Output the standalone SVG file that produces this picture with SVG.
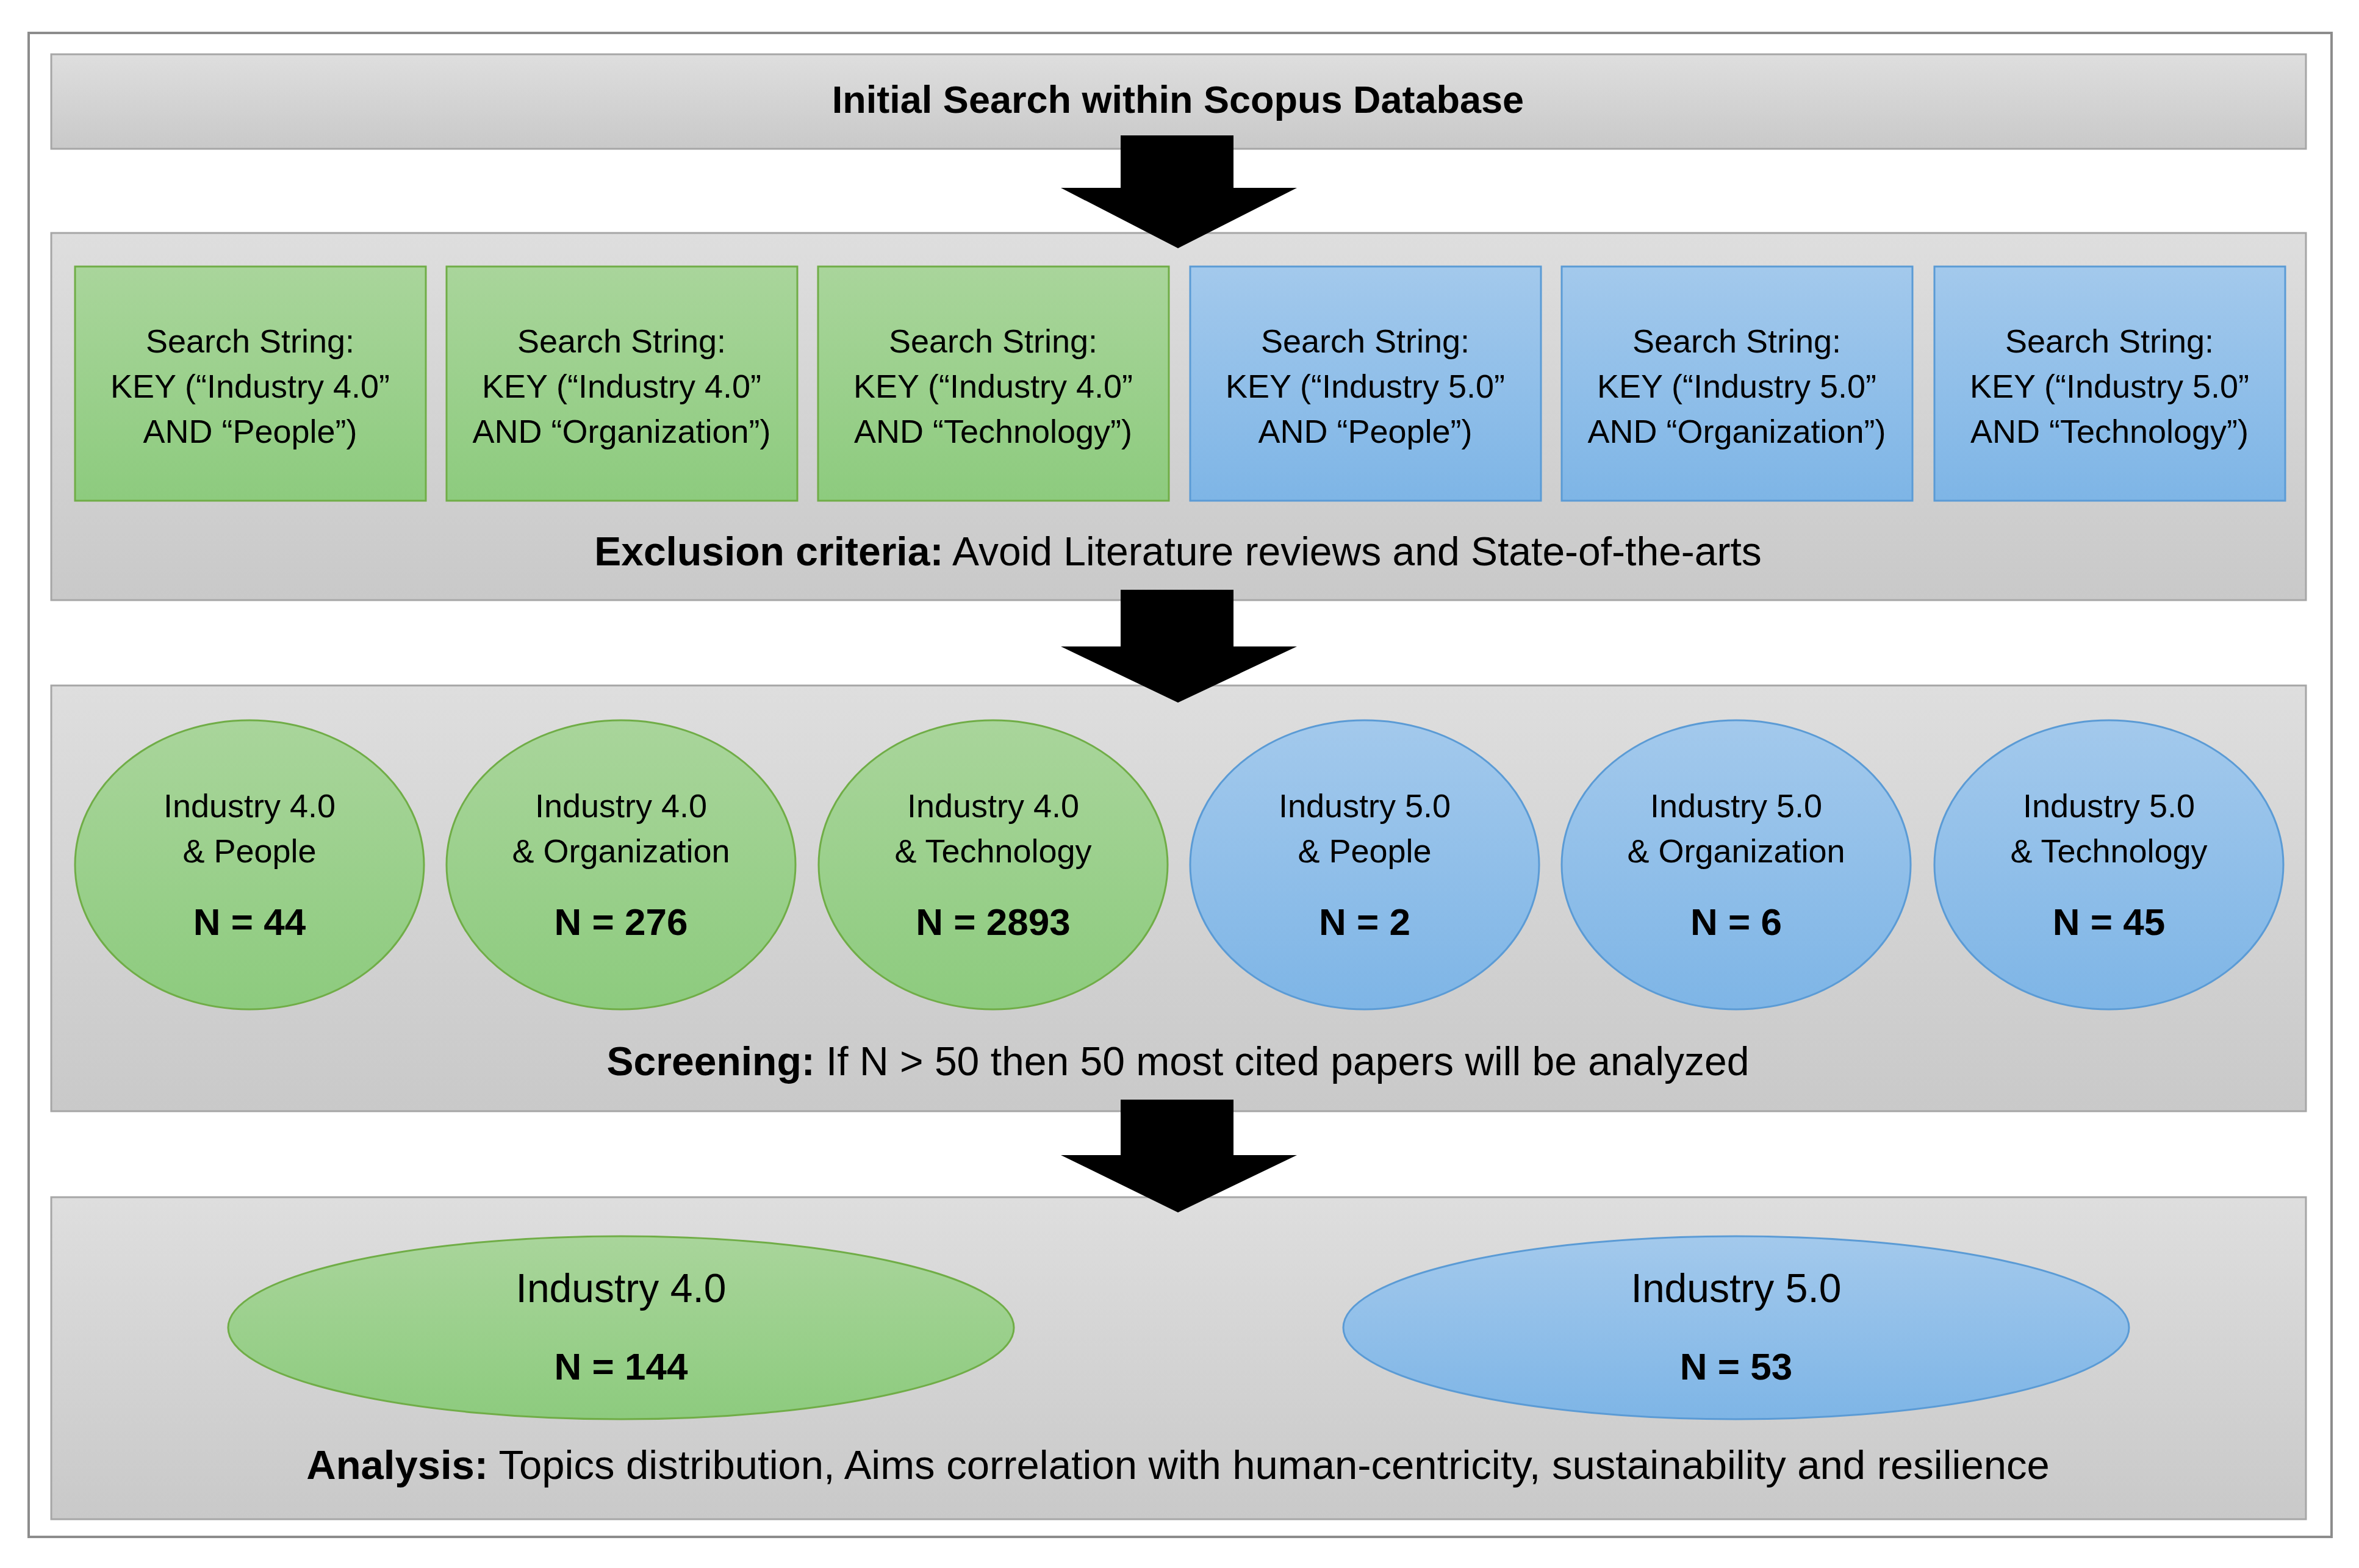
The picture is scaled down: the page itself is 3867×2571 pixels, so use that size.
<svg xmlns="http://www.w3.org/2000/svg" width="3867" height="2571" viewBox="0 0 3867 2571">
<defs>
<linearGradient id="gray" x1="0" y1="0" x2="0" y2="1"><stop offset="0" stop-color="#dedede"/><stop offset="1" stop-color="#c9c9c9"/></linearGradient>
<linearGradient id="green" x1="0" y1="0" x2="0" y2="1"><stop offset="0" stop-color="#a9d59b"/><stop offset="1" stop-color="#8dcb7e"/></linearGradient>
<linearGradient id="blue" x1="0" y1="0" x2="0" y2="1"><stop offset="0" stop-color="#a3c9ec"/><stop offset="1" stop-color="#7eb5e6"/></linearGradient>
</defs>
<style>
text{font-family:"Liberation Sans",Arial,sans-serif;fill:#000;text-anchor:middle}
.panel{fill:url(#gray);stroke:#a6a6a6;stroke-width:3}
.g{fill:url(#green);stroke:#70ad47;stroke-width:3}
.b{fill:url(#blue);stroke:#5b9bd5;stroke-width:3}
.t{font-size:54px}
.n{font-size:62px;font-weight:bold}
.l{font-size:60px}
.c{font-size:66px}
.bold{font-weight:bold}
.arr{fill:#000}
</style>
<rect width="3867" height="2571" fill="#fff"/>
<rect x="47" y="54" width="3775" height="2466" fill="#fff" stroke="#8c8c8c" stroke-width="4"/>
<g id="title"><rect class="panel" x="84" y="89" width="3696" height="155"/><text x="1931" y="185" font-size="63" font-weight="bold">Initial Search within Scopus Database</text></g>
<g id="panel2"><rect class="panel" x="84" y="382" width="3696" height="602"/><text class="c" x="1931" y="927"><tspan class="bold">Exclusion  criteria:</tspan> Avoid Literature reviews and State-of-the-arts</text></g>
<g id="panel3"><rect class="panel" x="84" y="1124" width="3696" height="698"/><text class="c" x="1931" y="1763"><tspan class="bold">Screening:</tspan> If N &gt; 50 then 50 most cited papers will be analyzed</text></g>
<g id="panel4"><rect class="panel" x="84" y="1963" width="3696" height="528"/><text x="1931" y="2425" font-size="67"><tspan class="bold">Analysis:</tspan> Topics distribution, Aims correlation with human-centricity, sustainability and resilience</text></g>
<g id="connectors">
<polygon class="arr" points="1837,222 2022,222 2022,308 2126,308 1931,407 1739,308 1837,308"/>
<polygon class="arr" points="1837,967 2022,967 2022,1060 2126,1060 1931,1152 1739,1060 1837,1060"/>
<polygon class="arr" points="1837,1803 2022,1803 2022,1894 2126,1894 1931,1988 1739,1894 1837,1894"/>
</g>
<g id="s1"><rect class="g" x="123" y="437" width="575" height="384"/><text class="t" x="410" y="578">Search String:</text><text class="t" x="410" y="652">KEY (“Industry 4.0”</text><text class="t" x="410" y="726">AND “People”)</text></g>
<g id="s2"><rect class="g" x="732" y="437" width="575" height="384"/><text class="t" x="1019" y="578">Search String:</text><text class="t" x="1019" y="652">KEY (“Industry 4.0”</text><text class="t" x="1019" y="726">AND “Organization”)</text></g>
<g id="s3"><rect class="g" x="1341" y="437" width="575" height="384"/><text class="t" x="1628" y="578">Search String:</text><text class="t" x="1628" y="652">KEY (“Industry 4.0”</text><text class="t" x="1628" y="726">AND “Technology”)</text></g>
<g id="s4"><rect class="b" x="1951" y="437" width="575" height="384"/><text class="t" x="2238" y="578">Search String:</text><text class="t" x="2238" y="652">KEY (“Industry 5.0”</text><text class="t" x="2238" y="726">AND “People”)</text></g>
<g id="s5"><rect class="b" x="2560" y="437" width="575" height="384"/><text class="t" x="2847" y="578">Search String:</text><text class="t" x="2847" y="652">KEY (“Industry 5.0”</text><text class="t" x="2847" y="726">AND “Organization”)</text></g>
<g id="s6"><rect class="b" x="3171" y="437" width="575" height="384"/><text class="t" x="3458" y="578">Search String:</text><text class="t" x="3458" y="652">KEY (“Industry 5.0”</text><text class="t" x="3458" y="726">AND “Technology”)</text></g>
<g id="e1"><ellipse class="g" cx="409" cy="1418" rx="286" ry="237"/><text class="t" x="409" y="1340">Industry 4.0</text><text class="t" x="409" y="1414">&amp; People</text><text class="n" x="409" y="1533">N = 44</text></g>
<g id="e2"><ellipse class="g" cx="1018" cy="1418" rx="286" ry="237"/><text class="t" x="1018" y="1340">Industry 4.0</text><text class="t" x="1018" y="1414">&amp; Organization</text><text class="n" x="1018" y="1533">N = 276</text></g>
<g id="e3"><ellipse class="g" cx="1628" cy="1418" rx="286" ry="237"/><text class="t" x="1628" y="1340">Industry 4.0</text><text class="t" x="1628" y="1414">&amp; Technology</text><text class="n" x="1628" y="1533">N = 2893</text></g>
<g id="e4"><ellipse class="b" cx="2237" cy="1418" rx="286" ry="237"/><text class="t" x="2237" y="1340">Industry 5.0</text><text class="t" x="2237" y="1414">&amp; People</text><text class="n" x="2237" y="1533">N = 2</text></g>
<g id="e5"><ellipse class="b" cx="2846" cy="1418" rx="286" ry="237"/><text class="t" x="2846" y="1340">Industry 5.0</text><text class="t" x="2846" y="1414">&amp; Organization</text><text class="n" x="2846" y="1533">N = 6</text></g>
<g id="e6"><ellipse class="b" cx="3457" cy="1418" rx="286" ry="237"/><text class="t" x="3457" y="1340">Industry 5.0</text><text class="t" x="3457" y="1414">&amp; Technology</text><text class="n" x="3457" y="1533">N = 45</text></g>
<g id="f1"><ellipse class="g" cx="1018" cy="2177" rx="644" ry="150"/><text class="c" x="1018" y="2135">Industry 4.0</text><text class="n" x="1018" y="2262">N = 144</text></g>
<g id="f2"><ellipse class="b" cx="2846" cy="2177" rx="644" ry="150"/><text class="c" x="2846" y="2135">Industry 5.0</text><text class="n" x="2846" y="2262">N = 53</text></g>
</svg>
